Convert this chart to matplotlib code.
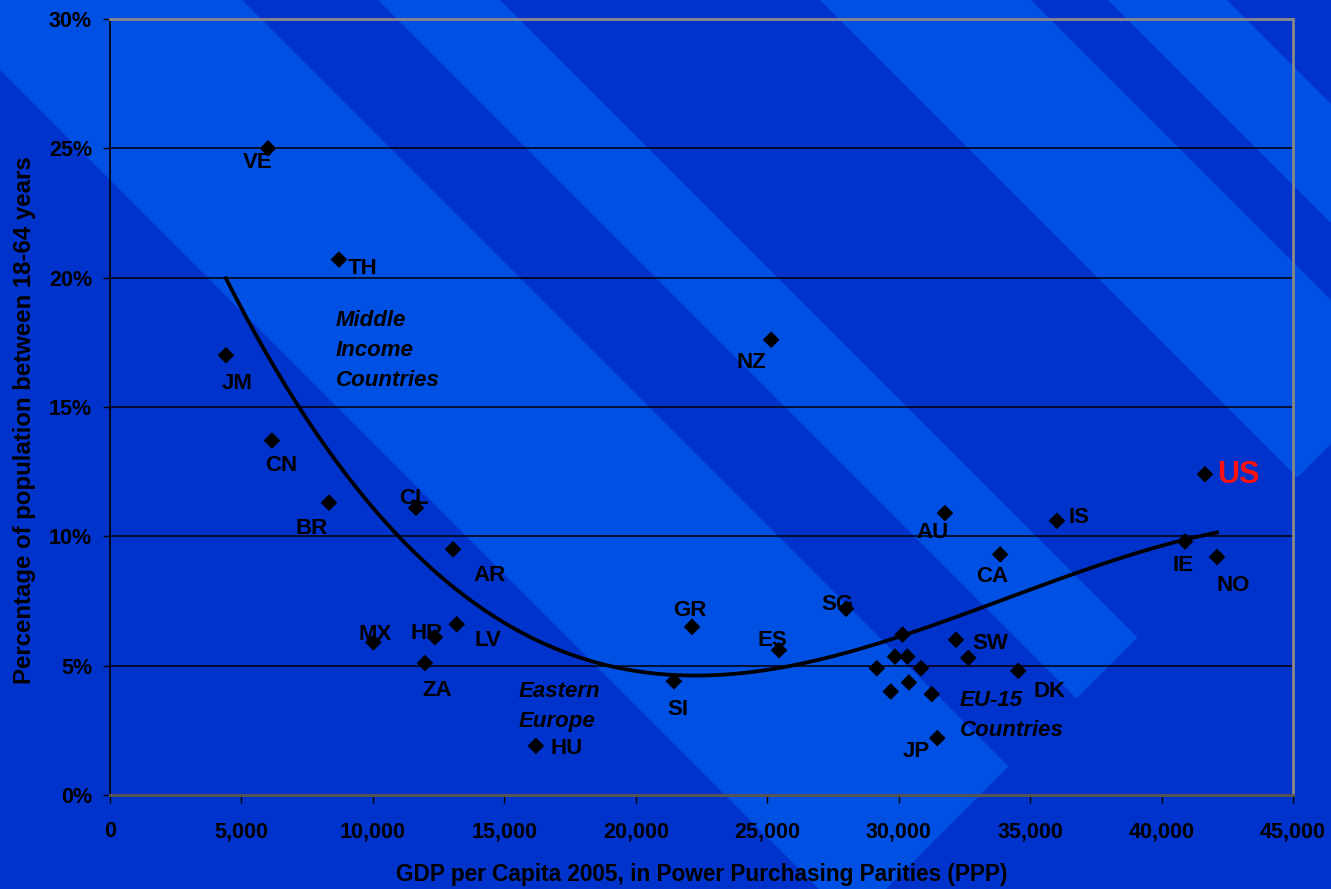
import matplotlib
matplotlib.use("Agg")
import matplotlib.pyplot as plt
from matplotlib.patches import Polygon
from matplotlib.ticker import FuncFormatter
import numpy as np

plt.rcParams['font.family'] = ['Liberation Sans', 'DejaVu Sans']

# ---- data -------------------------------------------------------------
countries = ["VE", "TH", "JM", "NZ", "CN", "BR", "CL", "AR", "LV", "MX",
             "HR", "ZA", "HU", "SI", "GR", "ES", "SG", "AU", "CA", "IS",
             "US", "IE", "NO", "SW", "DK", "JP",
             "", "", "", "", "", "", "", "", ""]
gdp_ppp = [6010, 8710, 4410, 25150, 6160, 8330, 11640, 13050, 13190, 10020,
           12360, 11980, 16200, 21450, 22140, 25450, 28000, 31760, 33860, 36020,
           41650, 40890, 42110, 32650, 34550, 31470,
           30150, 32180, 29860, 30330, 29170, 30850, 30390, 29700, 31260]
share_pct = [25.0, 20.7, 17.0, 17.6, 13.7, 11.3, 11.1, 9.5, 6.6, 5.9,
             6.1, 5.1, 1.9, 4.4, 6.5, 5.6, 7.2, 10.9, 9.3, 10.6,
             12.4, 9.8, 9.2, 5.3, 4.8, 2.2,
             6.2, 6.0, 5.35, 5.35, 4.9, 4.9, 4.35, 4.0, 3.9]

x_ticks = [0, 5000, 10000, 15000, 20000, 25000, 30000, 35000, 40000, 45000]
y_ticks = [0, 5, 10, 15, 20, 25, 30]

group_notes = [(["Middle", "Income", "Countries"], 8600, 18.35),
               (["Eastern", "Europe"], 15560, 4.02),
               (["EU-15", "Countries"], 32330, 3.67)]

# ---- styling ----------------------------------------------------------
W, H = 1331, 889
DARK = "#0033CC"
LIGHT = "#0050E4"
NOTE_LINE_STEP = 30  # pixels between note lines
# label offsets from the marker, in pixels (right, down)
label_offsets = {
    "VE": (-10, 14), "TH": (24, 9), "JM": (11, 28), "NZ": (-20, 23),
    "CN": (9, 25), "BR": (-17, 26), "CL": (-2, -9), "AR": (36, 26),
    "LV": (31, 16), "MX": (2, -8), "HR": (-8, -4), "ZA": (12, 27),
    "HU": (31, 3), "SI": (4, 28), "GR": (-2, -16), "ES": (-7, -10),
    "SG": (-9, -4), "AU": (-12, 19), "CA": (-8, 22), "IS": (22, -3),
    "US": (33, 1), "IE": (-2, 24), "NO": (16, 28), "SW": (22, -14),
    "DK": (31, 21), "JP": (-21, 13),
}

fig = plt.figure(figsize=(W / 100, H / 100), dpi=100)
fig.patch.set_facecolor(DARK)

# diagonal background bands (u = x - y across, cut at x + y = 1775)
bg = fig.add_axes([0, 0, 1, 1])
bg.set_xlim(0, W)
bg.set_ylim(H, 0)
bg.axis("off")
bands = [(-70, 242), (378, 500), (820, 1031), (1108, 1227)]
v_end, v_start = 1775, -1500
for u0, u1 in bands:
    pts = [((u + v) / 2, (v - u) / 2) for u, v in
           [(u0, v_start), (u1, v_start), (u1, v_end), (u0, v_end)]]
    bg.add_patch(Polygon(pts, closed=True, facecolor=LIGHT, edgecolor="none"))

left, right, top, bottom = 110, 1293, 19, 795
ax = fig.add_axes([left / W, (H - bottom) / H, (right - left) / W, (bottom - top) / H])
ax.set_facecolor("none")
ax.set_xlim(0, 45000)
ax.set_ylim(0, 30)
ax.set_xticks(x_ticks)
ax.set_yticks(y_ticks)
ax.xaxis.set_major_formatter(FuncFormatter(lambda v, p: f"{v:,.0f}"))
ax.yaxis.set_major_formatter(FuncFormatter(lambda v, p: f"{v:.0f}%"))
ax.yaxis.grid(True, color="black", linewidth=1.1)
ax.set_axisbelow(True)

for s in ("top", "right"):
    ax.spines[s].set_color("#8A8A8A")
    ax.spines[s].set_linewidth(2)
ax.spines["left"].set_color("black")
ax.spines["left"].set_linewidth(1.2)
ax.spines["bottom"].set_color("#555555")
ax.spines["bottom"].set_linewidth(2.2)

ax.tick_params(axis="both", direction="out", color="black", width=1,
               labelsize=15.5, labelcolor="black")
ax.tick_params(axis="y", length=5, pad=8)
ax.tick_params(axis="x", length=6, pad=13)
for lab in ax.get_xticklabels() + ax.get_yticklabels():
    lab.set_fontweight("bold")

ax.set_xlabel("GDP per Capita 2005, in Power Purchasing Parities (PPP)",
              fontsize=16.3, fontweight="bold", va="center")
ax.xaxis.set_label_coords(0.5, (bottom - 875) / (bottom - top))
ax.set_ylabel("Percentage of population between 18-64 years",
              fontsize=17.3, fontweight="bold", va="center")
ax.yaxis.set_label_coords((25 - left) / (right - left), 0.483)

# polynomial (order 3) trend line through the scatter
coef = np.polyfit(gdp_ppp, share_pct, 3)
xs = np.linspace(min(gdp_ppp), max(gdp_ppp), 200)
ax.plot(xs, np.polyval(coef, xs), color="black", linewidth=2.7, zorder=3)

ax.scatter(gdp_ppp, share_pct, marker="D", s=72, color="black",
           edgecolors="none", zorder=5)

for name, gx, gy in zip(countries, gdp_ppp, share_pct):
    if not name:
        continue
    dx, dy = label_offsets[name]
    is_us = name == "US"
    ax.annotate(name, (gx, gy), xytext=(dx * 0.72, -dy * 0.72),
                textcoords="offset points", ha="center", va="center",
                fontsize=22 if is_us else 16, fontweight="bold",
                color="#FF1010" if is_us else "black", zorder=6)

# group notes, one text per line
for lines, nx, ny in group_notes:
    for i, line in enumerate(lines):
        ax.annotate(line, (nx, ny), xytext=(0, -i * NOTE_LINE_STEP * 0.72),
                    textcoords="offset points", ha="left", va="center",
                    fontsize=16, fontweight="bold", fontstyle="italic",
                    color="black", zorder=6)

fig.savefig("out.png", dpi=100, facecolor=fig.get_facecolor())
